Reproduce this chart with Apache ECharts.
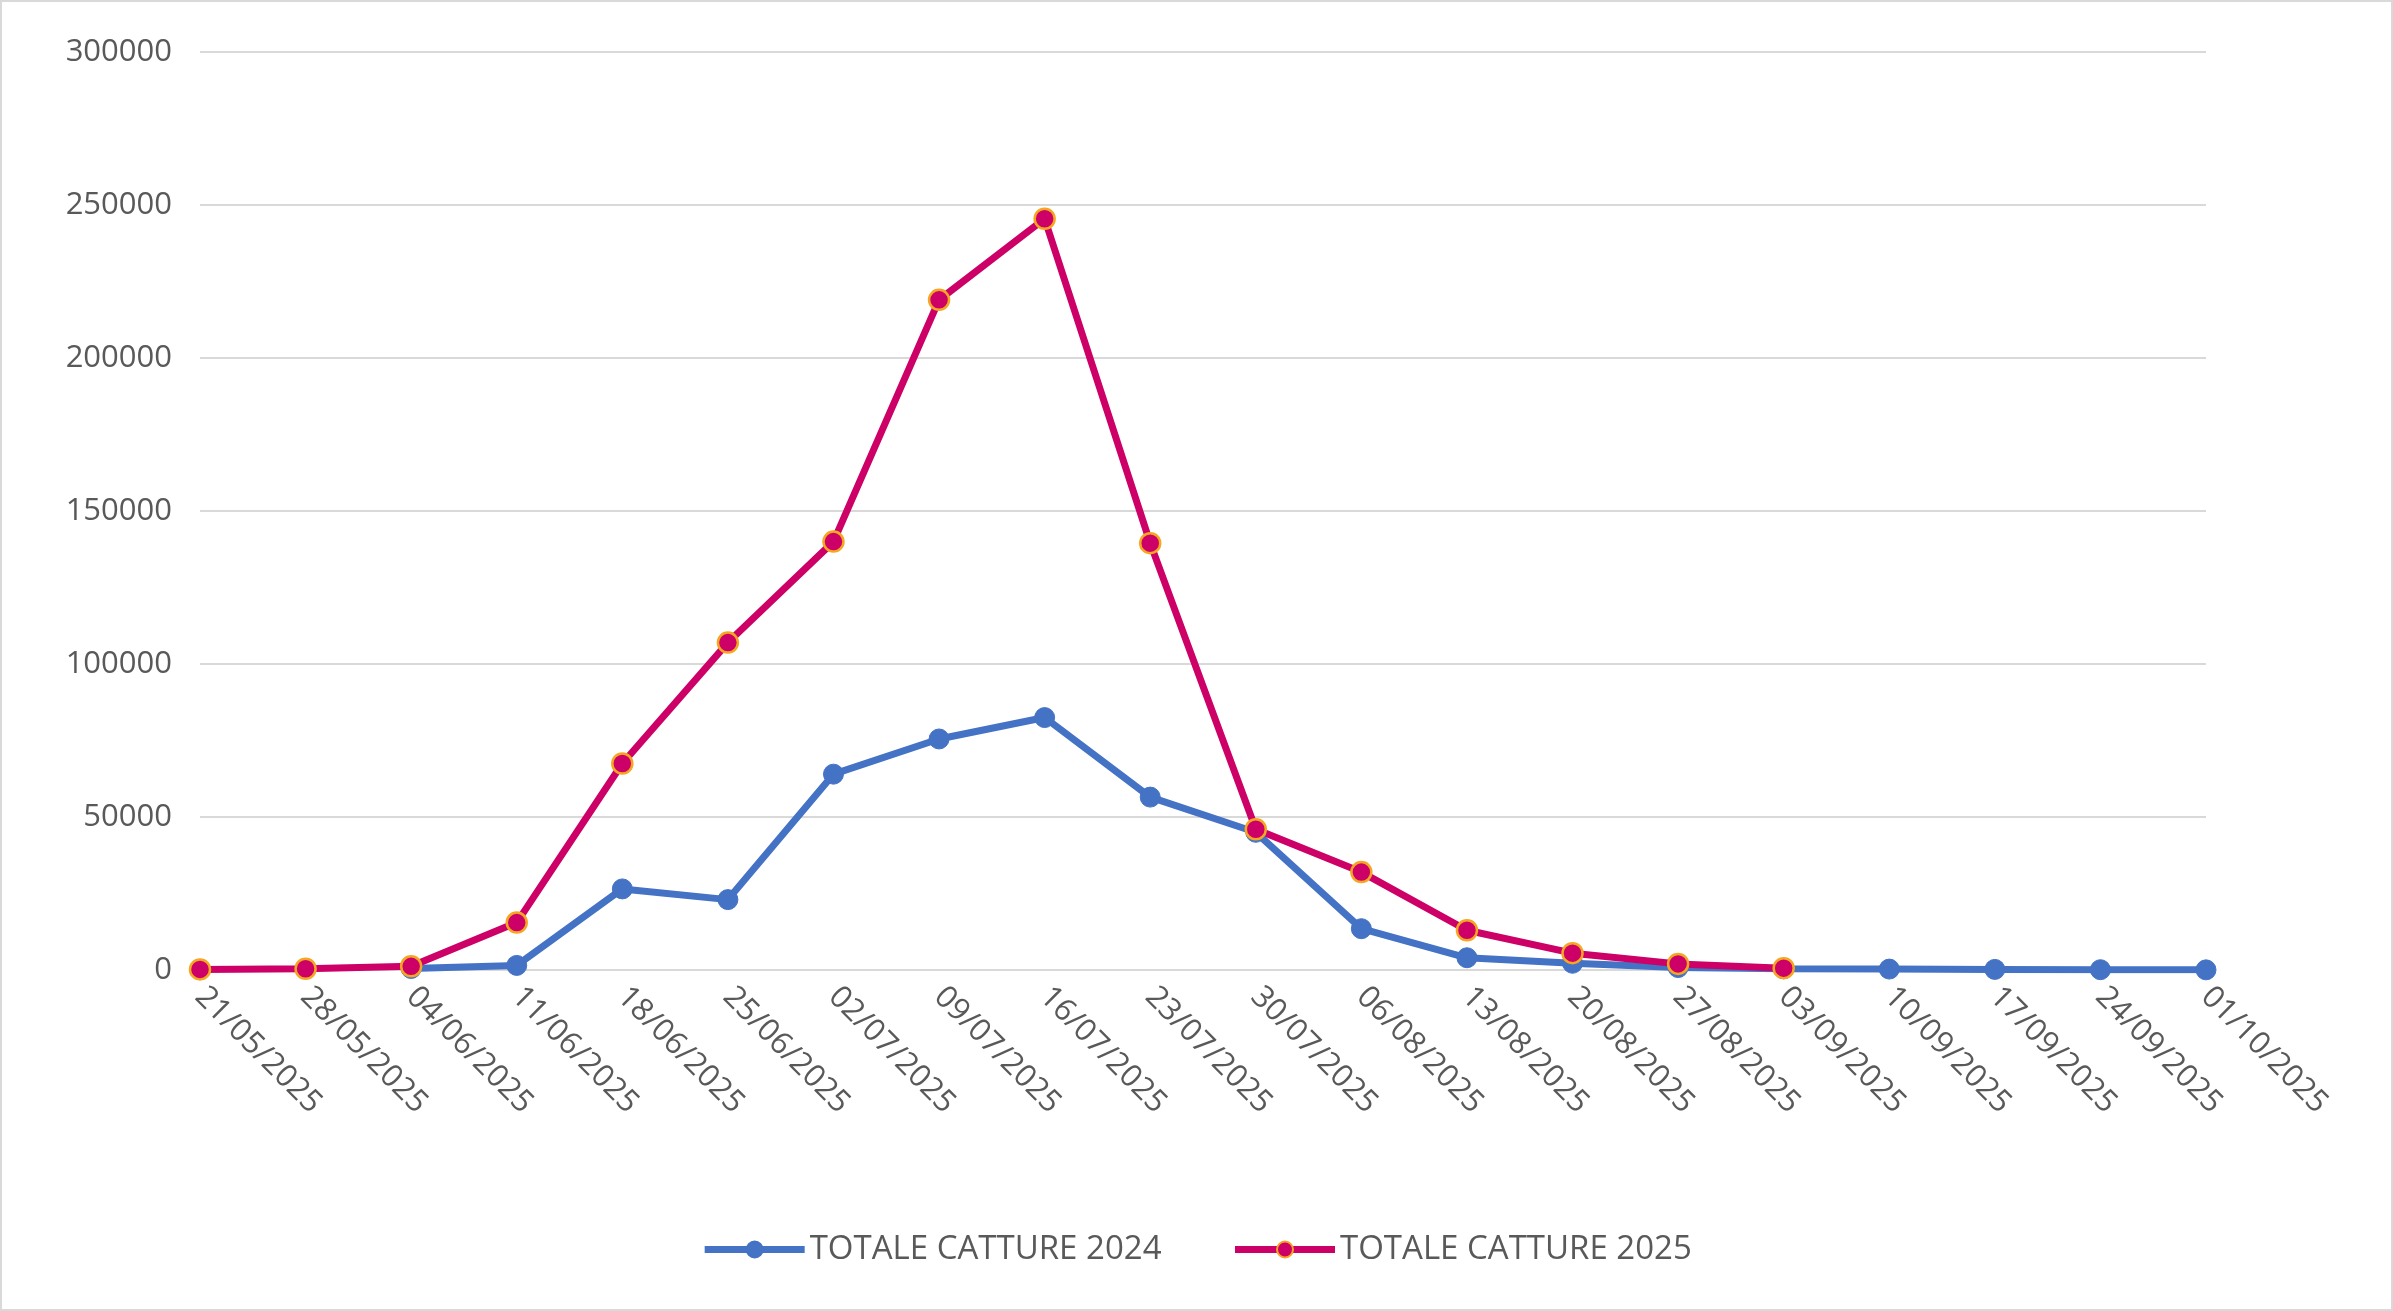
<!DOCTYPE html>
<html><head><meta charset="utf-8">
<script src="https://cdn.jsdelivr.net/npm/echarts@6/dist/echarts.min.js"></script>
<style>html,body{margin:0;padding:0;background:#fff}#c{width:2393px;height:1311px;box-sizing:border-box;border:2px solid #d9d9d9}</style>
</head><body><div id="c"></div>
<script>
const categories=["21/05/2025","28/05/2025","04/06/2025","11/06/2025","18/06/2025","25/06/2025","02/07/2025","09/07/2025","16/07/2025","23/07/2025","30/07/2025","06/08/2025","13/08/2025","20/08/2025","27/08/2025","03/09/2025","10/09/2025","17/09/2025","24/09/2025","01/10/2025"];
const catture2024=[null,null,500,1500,26500,23000,64000,75500,82500,56500,45000,13500,4000,2200,800,400,300,200,100,50];
const catture2025=[200,400,1200,15500,67500,107000,140000,219000,245500,139500,46000,32000,13000,5500,2000,600,null,null,null,null];
const yTicks=[0,50000,100000,150000,200000,250000,300000];
const chart=echarts.init(document.getElementById('c'));
const font='"Open Sans", "Noto Sans", sans-serif';
chart.setOption({
 animation:false,
 grid:{left:198,right:185,top:50,bottom:339,containLabel:false},
 legend:{bottom:38,left:'center',itemWidth:100,itemHeight:20,itemGap:70,
  lineStyle:{width:7},
  textStyle:{fontFamily:font,fontSize:33,color:'#595959'},
  data:['TOTALE CATTURE 2024','TOTALE CATTURE 2025']},
 xAxis:{type:'category',data:categories,boundaryGap:false,
  axisLine:{lineStyle:{color:'#d9d9d9',width:2}},axisTick:{show:false},
  axisLabel:{rotate:-45,interval:0,margin:22,fontFamily:font,fontSize:31,color:'#595959'}},
 yAxis:{type:'value',min:yTicks[0],max:yTicks[yTicks.length-1],interval:50000,
  axisLine:{show:false},axisTick:{show:false},
  splitLine:{lineStyle:{color:'#d9d9d9',width:2}},
  axisLabel:{margin:28,fontFamily:font,fontSize:31,color:'#595959',formatter:v=>String(v)}},
 series:[
  {name:'TOTALE CATTURE 2024',type:'line',data:catture2024,symbol:'circle',symbolSize:20,
   lineStyle:{color:'#4472C4',width:7},itemStyle:{color:'#4472C4',borderColor:'#4472C4',borderWidth:1}},
  {name:'TOTALE CATTURE 2025',type:'line',data:catture2025,symbol:'circle',symbolSize:20,
   lineStyle:{color:'#CC0066',width:7},itemStyle:{color:'#CC0066',borderColor:'#F5A623',borderWidth:2.5}}
 ]
});
</script></body></html>
